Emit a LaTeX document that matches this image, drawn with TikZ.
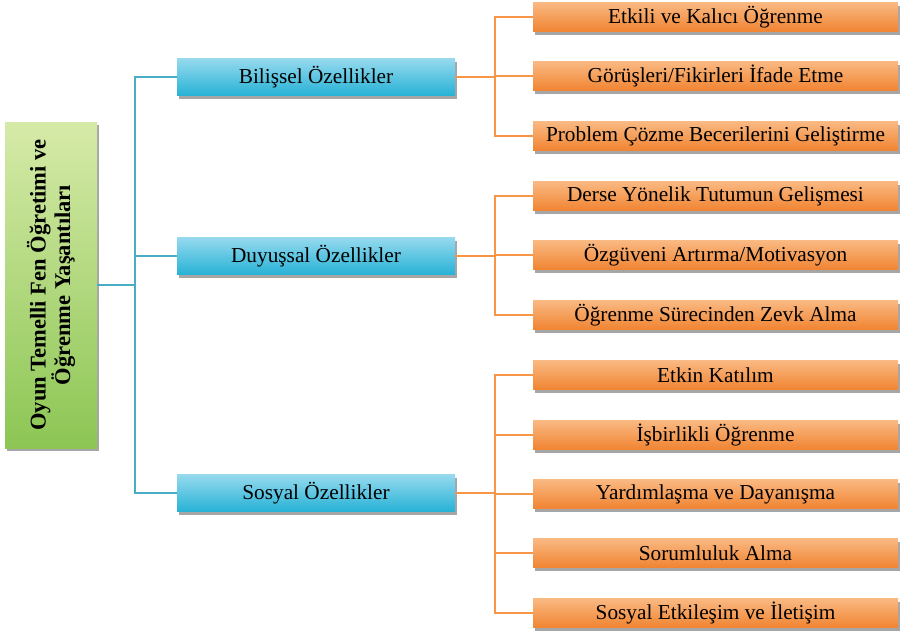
\documentclass[tikz,border=0pt]{standalone}
\usepackage{fontspec}
\setmainfont{Liberation Serif}
\usetikzlibrary{shadows}
\definecolor{tealline}{HTML}{4BACC6}
\definecolor{orline}{HTML}{F79646}
\tikzset{
  base/.style={rectangle, inner sep=0pt, drop shadow={shadow xshift=2pt, shadow yshift=-3pt, opacity=0.35, fill=black}},
  rootbox/.style={base, minimum width=92pt, minimum height=326pt, draw=none},
  midbox/.style={base, minimum width=278pt, minimum height=37pt, font=\fontsize{21.3}{24}\selectfont},
  leafbox/.style={base, minimum width=365pt, minimum height=29pt, font=\fontsize{21.3}{24}\selectfont},
  tline/.style={tealline, line width=1.2pt},
  oline/.style={orline, line width=1.2pt},
}
\begin{document}
\begin{tikzpicture}[x=1pt,y=-1pt]
\useasboundingbox (0,0) rectangle (900,633);
\node[rootbox, top color={rgb,255:red,214;green,234;blue,168}, bottom color={rgb,255:red,140;green,198;blue,84}] (root) at (51,285) {};
\node[rotate=90, align=center, font=\bfseries\fontsize{22.5}{20.5}\selectfont] (roottext) at (root.center) {Oyun Temelli Fen Öğretimi ve\\Öğrenme Yaşantıları};

\tikzset{mc/.style={midbox, top color={rgb,255:red,150;green,218;blue,238}, bottom color={rgb,255:red,38;green,178;blue,214}}}
\node[mc] (m1) at (316,77) {Bilişsel Özellikler};
\node[mc] (m2) at (316,256) {Duyuşsal Özellikler};
\node[mc] (m3) at (316,493) {Sosyal Özellikler};

\tikzset{lc/.style={leafbox, top color={rgb,255:red,250;green,185;blue,130}, bottom color={rgb,255:red,240;green,132;blue,50}}}
\node[lc] (a1) at (715.5,17) {Etkili ve Kalıcı Öğrenme};
\node[lc] (a2) at (715.5,76) {Görüşleri/Fikirleri İfade Etme};
\node[lc] (a3) at (715.5,136) {Problem Çözme Becerilerini Geliştirme};
\node[lc] (b1) at (715.5,196) {Derse Yönelik Tutumun Gelişmesi};
\node[lc] (b2) at (715.5,255) {Özgüveni Artırma/Motivasyon};
\node[lc] (b3) at (715.5,315) {Öğrenme Sürecinden Zevk Alma};
\node[lc] (c1) at (715.5,375) {Etkin Katılım};
\node[lc] (c2) at (715.5,435) {İşbirlikli Öğrenme};
\node[lc] (c3) at (715.5,494) {Yardımlaşma ve Dayanışma};
\node[lc] (c4) at (715.5,553) {Sorumluluk Alma};
\node[lc] (c5) at (715.5,613) {Sosyal Etkileşim ve İletişim};

\coordinate (tj) at (135,285);
\draw[tline] (root.east) -- (tj);
\draw[tline] (m1.west) -| (tj) |- (m3.west);
\draw[tline] (tj |- m2.west) -- (m2.west);

\coordinate (oj1) at (495,77);
\draw[oline] (m1.east) -- (oj1);
\draw[oline] (a1.west) -| (oj1) |- (a3.west);
\draw[oline] (oj1 |- a2.west) -- (a2.west);

\coordinate (oj2) at (495,256);
\draw[oline] (m2.east) -- (oj2);
\draw[oline] (b1.west) -| (oj2) |- (b3.west);
\draw[oline] (oj2 |- b2.west) -- (b2.west);

\coordinate (oj3) at (495,493);
\draw[oline] (m3.east) -- (oj3);
\draw[oline] (c1.west) -| (oj3) |- (c5.west);
\draw[oline] (oj3 |- c2.west) -- (c2.west);
\draw[oline] (oj3 |- c3.west) -- (c3.west);
\draw[oline] (oj3 |- c4.west) -- (c4.west);
\end{tikzpicture}
\end{document}
